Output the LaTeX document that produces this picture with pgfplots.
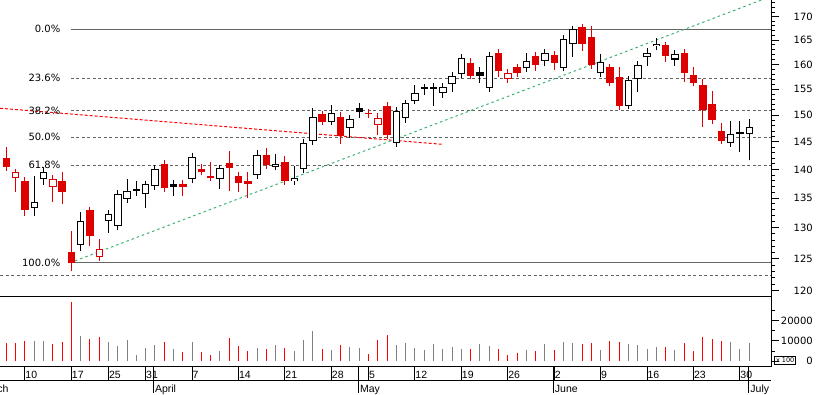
\documentclass[border=0pt]{standalone}
\usepackage{fontspec}
\setmainfont{DejaVu Sans}
\newfontfamily\libsans{Liberation Sans}
\usepackage{pgfplots}
\usepackage{pgfplotstable}
\pgfplotsset{compat=1.18}
\definecolor{cred}{RGB}{222,0,0}
\definecolor{vred}{RGB}{255,0,0}
\definecolor{vgray}{RGB}{128,128,128}
\definecolor{fibgray}{RGB}{100,100,100}
\definecolor{tgreen}{RGB}{60,179,113}
\newcommand\tf{\fontsize{10}{12}\selectfont}
\newcommand\df{\libsans\fontsize{10.5}{12}\selectfont}

% d = trading day (0 = March 10), o h l c = open high low close,
% s = candle style (1 hollow black, 2 filled red, 3 hollow red, 4 filled black), v = volume
\pgfplotstableread{
d o h l c s v
-2 142.0 144.0 139.8 140.5 2 9200
-1 138.5 140.1 136.1 139.5 3 9200
0 138.0 138.0 131.9 133.0 2 10000
1 133.3 138.9 131.9 134.4 1 10000
2 138.3 140.4 137.2 139.6 1 10000
3 136.9 138.9 134.4 138.3 3 8500
4 138.0 139.5 134.0 136.0 2 9500
5 126.1 129.5 123.0 124.4 2 29200
6 127.2 132.7 126.3 131.2 1 12600
7 132.9 133.0 127.1 128.6 2 11000
8 125.3 128.1 125.3 126.6 3 12200
9 131.2 132.4 129.2 132.3 1 9500
10 130.3 135.7 129.7 135.7 1 7700
11 134.8 138.3 134.6 136.3 1 10500
12 136.5 138.0 135.3 136.3 4 3300
13 135.7 137.4 133.3 137.4 1 6500
14 137.1 140.8 136.7 140.1 1 8200
15 141.0 141.0 136.0 136.7 2 9500
16 137.5 138.0 135.4 137.0 4 6100
17 137.5 137.8 135.3 137.0 2 4500
18 138.3 143.0 137.6 142.2 1 9500
19 140.1 141.0 139.0 139.6 2 4500
20 138.9 141.4 138.3 138.6 2 3300
21 138.3 140.2 136.5 140.2 1 5100
22 141.2 143.3 136.2 140.2 2 11600
23 138.9 138.9 136.1 137.7 2 7700
24 138.0 139.5 135.0 137.5 2 5100
25 139.0 143.5 138.6 142.6 1 6500
26 142.6 143.8 140.3 140.8 2 6100
27 140.5 142.8 140.3 141.0 1 8200
28 141.3 142.4 137.9 138.0 2 6500
29 137.9 140.7 137.2 138.5 1 5100
30 140.1 144.8 139.5 144.8 1 10500
31 145.1 151.3 144.9 149.6 1 15000
32 150.2 150.6 148.3 148.8 2 6100
33 148.8 152.0 148.3 150.4 1 5500
34 149.6 150.6 144.6 146.0 2 8200
35 147.5 149.6 145.7 149.3 1 7200
36 151.3 152.3 149.4 150.6 4 6500
37 150.2 150.8 149.4 150.5 3 3800
38 148.2 150.4 146.2 149.4 3 10500
39 151.8 152.6 145.7 146.2 2 13000
40 144.8 150.8 144.6 150.8 1 8200
41 149.4 152.9 148.5 152.3 1 9000
42 152.8 155.9 152.8 154.3 1 6500
43 155.4 156.0 153.8 155.0 4 5500
44 155.5 156.0 151.8 155.1 4 8500
45 154.3 155.9 153.4 155.5 1 6100
46 156.0 158.1 154.4 157.7 1 7200
47 158.0 161.5 157.4 161.4 1 6100
48 160.2 161.4 157.1 157.7 2 6100
49 158.4 159.5 156.3 157.7 4 8500
50 155.2 162.3 155.2 161.8 1 7700
51 162.3 162.3 157.5 158.7 2 6100
52 157.0 159.1 157.0 158.2 3 3300
53 159.4 159.9 157.5 158.2 2 4200
54 159.2 162.4 159.0 160.6 1 5500
55 161.7 161.7 158.7 159.9 2 5100
56 160.6 162.3 159.7 162.3 1 8500
57 161.9 161.9 158.9 160.2 2 5500
58 159.3 166.1 159.0 165.2 1 9500
59 164.1 168.0 161.4 167.3 1 9000
60 167.7 168.4 162.8 164.1 2 8500
61 165.6 168.0 159.5 159.9 2 9000
62 158.2 162.1 158.2 160.4 1 5500
63 159.4 159.5 155.9 156.3 2 10000
64 157.4 159.4 151.0 151.8 2 9500
65 151.8 157.4 151.8 156.9 1 8500
66 157.0 160.7 154.4 159.9 1 8100
67 161.6 163.3 159.7 162.3 1 6100
68 163.7 165.4 163.5 164.2 1 7200
69 163.9 164.2 160.4 161.8 2 7100
70 161.0 163.0 159.7 162.1 1 5500
71 162.4 162.8 156.5 158.2 2 9000
72 157.9 159.4 155.9 156.3 2 5100
73 155.9 157.0 147.8 151.0 2 12000
74 152.2 154.6 149.1 149.1 2 11000
75 147.0 148.5 145.1 145.2 2 10000
76 144.8 148.9 144.8 146.4 1 9500
77 146.8 148.9 143.2 146.5 4 6100
78 146.4 149.3 141.8 147.8 1 9000
}\candles

\pgfplotsset{
  redrows/.style={restrict expr to domain={\thisrow{s}}{1.5:3.5}},
  blackrows/.style={restrict expr to domain={abs(\thisrow{s}-2.5)}{1:2}},
  hollowrows/.style={restrict expr to domain={mod(\thisrow{s},2)}{0.5:1.5}},
  wick/.style={draw=none, mark=none, unbounded coords=discard,
    error bars/.cd, y dir=both, y explicit, error mark=none,
    error bar style={line width=1pt, color=#1}},
  body/.style={draw=none, mark=none, unbounded coords=discard,
    error bars/.cd, y dir=both, y explicit, error mark=-,
    error mark options={color=#1, line width=1pt, mark size=3.65pt},
    error bar style={line width=7.3pt, color=#1}},
  inner/.style={draw=none, mark=none, unbounded coords=discard,
    error bars/.cd, y dir=both, y explicit, error mark=none,
    error bar style={line width=5.3pt, color=white}},
  rightaxis/.style={
    scale only axis, anchor=south west, width=771pt,
    xmin=-2.692, xmax=80.34,
    axis line style={-, line width=1pt, black},
    tick align=outside, major tick length=8pt, minor tick length=4pt,
    every tick/.style={black, line width=1pt},
    scaled y ticks=false,
    yticklabel style={anchor=east, inner sep=0pt, xshift=34pt, font=\tf},
  },
}

\begin{document}
\begin{tikzpicture}[x=1pt,y=1pt]
\useasboundingbox (0,0) rectangle (817,395);

% ---------- price panel ----------
\begin{axis}[rightaxis,
  at={(0pt,98.7pt)}, height=296.3pt,
  ymode=log, ymin=119.19, ymax=173.64,
  axis x line*=bottom, axis y line*=right,
  xtick=\empty,
  ytick={120,125,130,135,140,145,150,155,160,165,170},
  yticklabels={120,125,130,135,140,145,150,155,160,165,170},
  minor ytick={120,121,...,173},
]
% Fibonacci levels
\addplot[fibgray, line width=1pt] coordinates {(4.95,167.3) (80.34,167.3)};
\addplot[fibgray, line width=1pt, dash pattern=on 3pt off 2.5pt] coordinates {(4.95,157.2) (80.34,157.2)};
\addplot[fibgray, line width=1pt, dash pattern=on 3pt off 2.5pt] coordinates {(4.95,150.9) (80.34,150.9)};
\addplot[fibgray, line width=1pt, dash pattern=on 3pt off 2.5pt] coordinates {(4.95,145.85) (80.34,145.85)};
\addplot[fibgray, line width=1pt, dash pattern=on 3pt off 2.5pt] coordinates {(4.95,140.8) (80.34,140.8)};
\addplot[fibgray, line width=1pt] coordinates {(4.95,124.4) (80.34,124.4)};
\addplot[fibgray, line width=1pt, dash pattern=on 3pt off 2.5pt] coordinates {(-2.692,122.3) (80.34,122.3)};
% trend lines
\addplot[vred, line width=1pt, dash pattern=on 3pt off 2pt] coordinates {(-2.692,151.33) (44.87,144.57)};
\addplot[tgreen, line width=1pt, dash pattern=on 2.5pt off 3pt] coordinates {(5.385,124.66) (79.34,173.64)};
% labels
\node[anchor=east, inner sep=0pt, font=\tf] at (axis cs:3.82,167.3) {0.0\%};
\node[anchor=east, inner sep=0pt, font=\tf] at (axis cs:3.82,157.2) {23.6\%};
\node[anchor=east, inner sep=0pt, font=\tf] at (axis cs:3.82,150.9) {38.2\%};
\node[anchor=east, inner sep=0pt, font=\tf] at (axis cs:3.82,145.85) {50.0\%};
\node[anchor=east, inner sep=0pt, font=\tf] at (axis cs:3.82,140.8) {61.8\%};
\node[anchor=east, inner sep=0pt, font=\tf] at (axis cs:3.82,124.4) {100.0\%};
% candlesticks: wicks (low to high)
\addplot[redrows, wick=cred] table[x=d, y expr={(\thisrow{l}+\thisrow{h})/2},
  y error expr={(\thisrow{h}-\thisrow{l})/2}] {\candles};
\addplot[blackrows, wick=black] table[x=d, y expr={(\thisrow{l}+\thisrow{h})/2},
  y error expr={(\thisrow{h}-\thisrow{l})/2}] {\candles};
% bodies (open to close)
\addplot[redrows, body=cred] table[x=d, y expr={(\thisrow{o}+\thisrow{c})/2},
  y error expr={abs(\thisrow{c}-\thisrow{o})/2}] {\candles};
\addplot[blackrows, body=black] table[x=d, y expr={(\thisrow{o}+\thisrow{c})/2},
  y error expr={abs(\thisrow{c}-\thisrow{o})/2}] {\candles};
% hollow bodies: white interior
\addplot[hollowrows, inner] table[x=d, y expr={(\thisrow{o}+\thisrow{c})/2},
  y error expr={max(abs(\thisrow{c}-\thisrow{o})/2-0.000635*(\thisrow{o}+\thisrow{c}),0)}] {\candles};
\end{axis}

% ---------- volume panel ----------
\begin{axis}[rightaxis,
  at={(0pt,28pt)}, height=70.7pt,
  ymin=-2808, ymax=32020,
  axis x line=none, axis y line*=right,
  xtick=\empty,
  ytick={0,10000,20000}, yticklabels={0,10000,20000},
  minor ytick={5000,15000,25000},
  unbounded coords=discard,
]
\addplot[ycomb, vred, line width=1pt, redrows] table[x=d, y=v] {\candles};
\addplot[ycomb, vgray, line width=1pt, blackrows] table[x=d, y=v] {\candles};
\end{axis}

% ---------- date row ----------
\begin{axis}[
  at={(0pt,14pt)}, anchor=south west, scale only axis, width=771pt, height=14pt,
  xmin=-2.692, xmax=80.34, ymin=0, ymax=1,
  separate axis lines, x axis line style={line width=1pt, black}, y axis line style={draw=none},
  ytick=\empty,
  xtick={0,5,9,13,18,23,28,33,37,42,47,52,57,62,67,72,77},
  xticklabels={10,17,25,31,7,14,21,28,5,12,19,26,2,9,16,23,30},
  major tick length=0pt, xtick pos=bottom,
  xmajorgrids, major grid style={black, line width=1pt, solid},
  xticklabel style={anchor=base west, inner sep=0pt, xshift=0.3pt, yshift=2pt, font=\df},
]
\end{axis}

% ---------- month row ----------
\begin{axis}[
  at={(0pt,2pt)}, anchor=south west, scale only axis, width=771pt, height=26pt,
  xmin=-2.692, xmax=80.34, ymin=0, ymax=1,
  axis line style={draw=none},
  ytick=\empty,
  xtick={13.82,35.9,56.89,77.94},
  xticklabels={April,May,June,July},
  major tick length=0pt, xtick pos=bottom,
  xmajorgrids, major grid style={black, line width=1pt, solid},
  xticklabel style={anchor=base west, inner sep=0pt, xshift=1.5pt, yshift=0.7pt, font=\df},
]
\end{axis}

\node[anchor=base east, inner sep=0pt, font=\df] at (8.6,2.7) {March};
\node[draw, line width=0.8pt, inner sep=0pt, minimum width=21pt, minimum height=8pt,
  font=\fontsize{6.5}{7}\selectfont, anchor=south west] at (774.3,30) {x 100};
\end{tikzpicture}
\end{document}
